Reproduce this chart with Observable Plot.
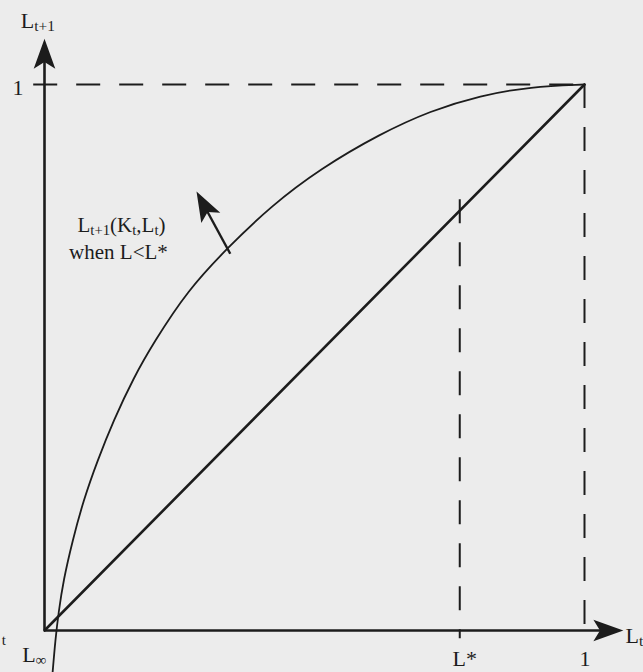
<!DOCTYPE html>
<html><head><meta charset="utf-8">
<script src="https://cdn.jsdelivr.net/npm/d3@7"></script>
<script src="https://cdn.jsdelivr.net/npm/@observablehq/plot@0.6"></script>
<style>
html,body{margin:0;padding:0;background:#ececec;overflow:hidden;}
#chart svg{display:block;}
</style></head><body><div id="chart"></div>
<script>
// ---- data (in data units: 0..1 on both axes) ----
const curveL    = [0.015, 0.020, 0.026, 0.035, 0.052, 0.072, 0.098, 0.128, 0.165, 0.202, 0.265, 0.339, 0.419, 0.511, 0.622, 0.715, 0.807, 0.900, 1.000];
const curveNext = [-0.077, -0.018, 0.033, 0.092, 0.165, 0.238, 0.311, 0.385, 0.463, 0.527, 0.623, 0.701, 0.777, 0.846, 0.910, 0.952, 0.980, 0.996, 1.000];
const diagL = [0, 1];
const lStar = 0.769;
const unit = 1;
const axisEndX = 1.072;
const axisEndY = 1.084;
const pointerFrom = [0.344, 0.690];
const pointerTo   = [0.2815, 0.804];

const labelText = ["L_{t+1}", "1", "L_∞", "L*", "1", "L_t", "t", "L_{t+1}(K_t,L_t)", "when L<L*"];
const labelX    = [-0.044, -0.039, -0.041, 0.7556, 0.9907, 1.0759, -0.079, 0.1426, 0.137];
const labelY    = [1.1026, 0.980, -0.0586, -0.0650, -0.0650, -0.0238, -0.026, 0.729, 0.681];
const labelAnchor = ["start", "end", "start", "start", "start", "start", "start", "middle", "middle"];

// ---- build ----
const ink = "#1c1c1c";
const curve = curveL.map((l, i) => ({l, n: curveNext[i]}));
const diag = diagL.map(v => ({l: v, n: v}));
const labels = labelText.map((t, i) => ({t, x: labelX[i], y: labelY[i], a: labelAnchor[i]}));

const X0 = 44, X1 = 584, Y0 = 630, Y1 = 84;
const sx = d3.scaleLinear([0, 1], [X0, X1]);
const sy = d3.scaleLinear([0, 1], [Y0, Y1]);
const angle = (a, b) => Math.atan2(sx(b[0]) - sx(a[0]), -(sy(b[1]) - sy(a[1]))) * 180 / Math.PI;

const heads = [
  {x: 0, y: axisEndY, a: 0},
  {x: axisEndX, y: 0, a: 90},
  {x: pointerTo[0], y: pointerTo[1], a: angle(pointerFrom, pointerTo)}
];

const stealth = {
  draw(ctx, size) {
    const L = Math.sqrt(size / Math.PI);
    ctx.moveTo(0, 0);
    ctx.lineTo(0.36 * L, L);
    ctx.lineTo(0, 0.78 * L);
    ctx.lineTo(-0.36 * L, L);
    ctx.closePath();
  }
};

const dash = "24,19";

const sizeOf = t => t === "t" ? 15 : (t.startsWith("when") || t.includes("(")) ? 21 : 22;
const textMarks = labels.map(d => Plot.text([d], {
  x: "x", y: "y", text: "t", textAnchor: d.a, lineAnchor: "bottom",
  fontSize: sizeOf(d.t), fill: ink
}));

const chart = Plot.plot({
  width: 643,
  height: 672,
  margin: 0,
  x: {domain: [0, 1], range: [X0, X1], axis: null},
  y: {domain: [0, 1], range: [Y0, Y1], axis: null},
  style: {background: "#ececec", fontFamily: "'Liberation Serif', 'Times New Roman', serif", color: ink},
  marks: [
    Plot.ruleY([unit], {x1: -0.02, x2: unit, stroke: ink, strokeWidth: 2, strokeDasharray: dash}),
    Plot.ruleX([unit], {y1: unit, y2: -0.018, stroke: ink, strokeWidth: 2, strokeDasharray: dash}),
    Plot.ruleX([lStar], {y1: lStar + 0.02, y2: -0.015, stroke: ink, strokeWidth: 2, strokeDasharray: dash}),
    Plot.ruleX([0], {y1: 0, y2: 1.05, stroke: ink, strokeWidth: 2.6}),
    Plot.ruleY([0], {x1: 0, x2: 1.04, stroke: ink, strokeWidth: 2.6}),
    Plot.line(diag, {x: "l", y: "n", stroke: ink, strokeWidth: 2.6}),
    Plot.line(curve, {x: "l", y: "n", curve: "basis", stroke: ink, strokeWidth: 1.8}),
    Plot.arrow([{x1: pointerFrom[0], y1: pointerFrom[1], x2: pointerTo[0], y2: pointerTo[1]}],
      {x1: "x1", y1: "y1", x2: "x2", y2: "y2", insetEnd: 15, headLength: 0, stroke: ink, strokeWidth: 2.4, strokeLinecap: "butt"}),
    Plot.dot(heads, {x: "x", y: "y", rotate: "a", symbol: stealth, r: 30, fill: ink, stroke: "none"}),
    ...textMarks
  ]
});

// subscripts: turn _x / _{...} into smaller lowered tspans
const NS = "http://www.w3.org/2000/svg";
chart.querySelectorAll("text").forEach(t => {
  const s = t.textContent;
  if (!s.includes("_")) return;
  t.textContent = "";
  const re = /_\{([^}]*)\}|_(.)|([^_]+)/gu;
  let m, sub = false;
  while ((m = re.exec(s))) {
    const ts = document.createElementNS(NS, "tspan");
    if (m[3] !== undefined) {
      ts.textContent = m[3];
      if (sub) ts.setAttribute("dy", "-3");
      sub = false;
    } else {
      ts.textContent = m[1] !== undefined ? m[1] : m[2];
      ts.setAttribute("font-size", "0.7em");
      if (!sub) ts.setAttribute("dy", "3");
      sub = true;
    }
    t.appendChild(ts);
  }
});

document.getElementById("chart").appendChild(chart);
</script>
</body></html>
